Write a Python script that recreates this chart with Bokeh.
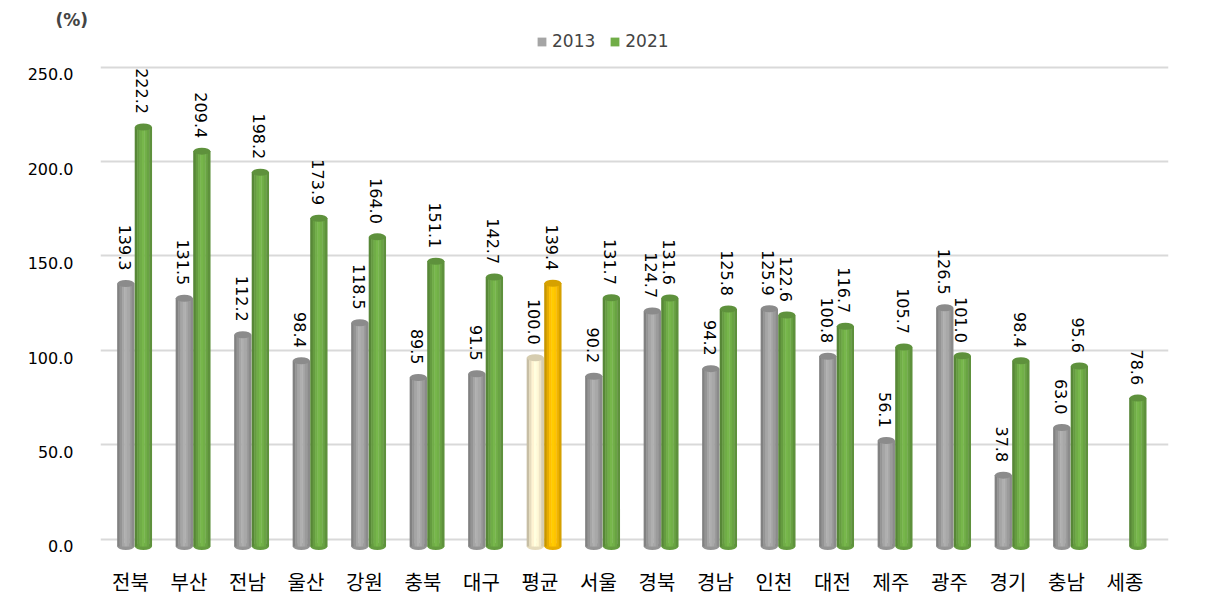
import numpy as np
from bokeh.plotting import figure
from bokeh.models import Range1d, FixedTicker, NumeralTickFormatter, Legend, LegendItem, Grid
from bokeh.core.properties import value
from bokeh.embed import file_html
from bokeh.resources import INLINE

# ---------------- data ----------------
regions = ["전북", "부산", "전남", "울산", "강원", "충북", "대구", "평균", "서울",
           "경북", "경남", "인천", "대전", "제주", "광주", "경기", "충남", "세종"]
v2013 = [139.3, 131.5, 112.2, 98.4, 118.5, 89.5, 91.5, 100.0, 90.2,
         124.7, 94.2, 125.9, 100.8, 56.1, 126.5, 37.8, 63.0, None]
v2021 = [222.2, 209.4, 198.2, 173.9, 164.0, 151.1, 142.7, 139.4, 131.7,
         131.6, 125.8, 122.6, 116.7, 105.7, 101.0, 98.4, 95.6, 78.6]
series_names = ["2013", "2021"]
y_ticks = [0, 50, 100, 150, 200, 250]
highlight = "평균"

# ---------------- style ----------------
KFONT = "Noto Sans CJK KR"
NFONT = "DejaVu Sans"
BASE = {"2013": (165, 165, 165), "2021": (112, 173, 71)}
HL_BASE = {"2013": (255, 244, 210), "2021": (255, 192, 0)}
OFFSET = {"2013": -0.08, "2021": 0.22}
BAR_W = 0.29
PROFILE = [0.78, 0.9, 1.0, 1.06, 1.02, 0.94, 0.84]
Y0, Y1 = -3.18, 273.3
BACK_SHIFT = 3.9  # back-wall grid sits slightly higher (3-D look)


def shade(rgb, f):
    return "#%02x%02x%02x" % tuple(max(0, min(255, int(round(c * f)))) for c in rgb)


p = figure(width=1209, height=599, output_backend="svg", toolbar_location=None,
           x_range=Range1d(-0.513, 17.744), y_range=Range1d(Y0, Y1),
           min_border_left=100, min_border_right=41, min_border_top=30, min_border_bottom=47)
p.extra_y_ranges = {"back": Range1d(Y0 - BACK_SHIFT, Y1 - BACK_SHIFT)}
p.outline_line_color = None
p.background_fill_color = "white"
p.border_fill_color = "white"

# axes
p.yaxis.ticker = FixedTicker(ticks=y_ticks)
p.yaxis.formatter = NumeralTickFormatter(format="0.0")
p.yaxis.axis_line_color = None
p.yaxis.major_tick_line_color = None
p.yaxis.minor_tick_line_color = None
p.yaxis.major_tick_out = 0
p.yaxis.minor_tick_out = 0
p.yaxis.major_label_standoff = 27
p.yaxis.major_label_text_font = NFONT
p.yaxis.major_label_text_font_size = "16px"
p.yaxis.major_label_text_color = "#000000"

p.xaxis.ticker = FixedTicker(ticks=list(range(len(regions))))
p.xaxis.major_label_overrides = {i: r for i, r in enumerate(regions)}
p.xaxis.axis_line_color = None
p.xaxis.major_tick_line_color = None
p.xaxis.minor_tick_line_color = None
p.xaxis.major_label_standoff = 8
p.xaxis.major_label_text_font = KFONT
p.xaxis.major_label_text_font_size = "20px"
p.xaxis.major_label_text_color = "#000000"

p.xgrid.grid_line_color = None
p.ygrid.grid_line_color = None
back_grid = Grid(dimension=1, ticker=FixedTicker(ticks=y_ticks), y_range_name="back",
                 grid_line_color="#d9d9d9", grid_line_width=2)
p.add_layout(back_grid)

# title "(%)"
p.title.text = "(%)"
p.title.text_font = NFONT
p.title.text_font_size = "17px"
p.title.text_font_style = "bold"
p.title.align = "left"
p.title.offset = -45
p.title.standoff = 2

# bars (cylinder look via shaded strips)
n = len(PROFILE)
legend_items = []
for s, vals in zip(series_names, [v2013, v2021]):
    idx = [i for i, v in enumerate(vals) if v is not None]
    tops = [vals[i] for i in idx]
    bases = [HL_BASE[s] if regions[i] == highlight else BASE[s] for i in idx]
    centers = np.array(idx, dtype=float) + OFFSET[s]
    # bottom cap
    p.ellipse(x=centers, y=[0] * len(idx), width=BAR_W, height=7, height_units="screen",
              fill_color=[shade(b, 0.9) for b in bases], line_color=None)
    sw = BAR_W / n
    main_r = None
    for k, f in enumerate(PROFILE):
        xs = centers - BAR_W / 2 + (k + 0.5) * sw
        r = p.vbar(x=xs, top=tops, bottom=0, width=sw * 1.15,
                   fill_color=[shade(b, f) for b in bases], line_color=None)
        if f == 1.0:
            main_r = r
    # top cap
    p.ellipse(x=centers, y=tops, width=BAR_W, height=7, height_units="screen",
              fill_color=[shade(b, 0.84) for b in bases], line_color=None)
    # value labels
    p.text(x=centers, y=tops, text=["%.1f" % t for t in tops], angle=-np.pi / 2,
           text_align="right", text_baseline="middle", y_offset=-13, x_offset=-1,
           text_font=value(NFONT), text_font_size="16px", text_color="#000000")
    legend_items.append(LegendItem(label=s, renderers=[main_r], index=0))

legend = Legend(items=legend_items, orientation="horizontal", location=(436, 501),
                border_line_color=None, background_fill_alpha=0,
                label_text_font=NFONT, label_text_font_size="17px",
                glyph_width=11, glyph_height=11, label_standoff=5, spacing=14,
                padding=0, margin=0)
p.add_layout(legend)

open("out.html", "w").write(file_html(p, INLINE))
